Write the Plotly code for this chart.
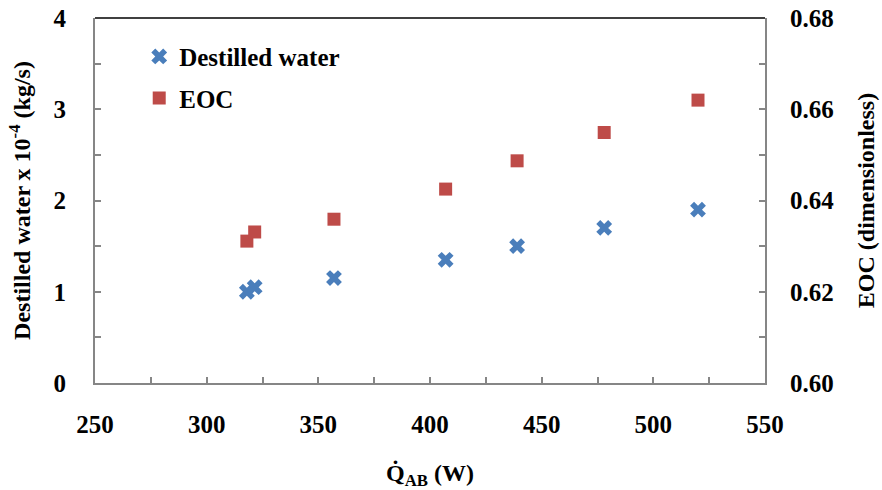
import plotly.graph_objects as go

q_ab = [318, 321.5, 357, 407, 439, 478, 520]
water = [1.0, 1.05, 1.15, 1.35, 1.5, 1.7, 1.9]
eoc = [0.6311, 0.6331, 0.6359, 0.6425, 0.6487, 0.6549, 0.6620]

x_ticks = [250, 300, 350, 400, 450, 500, 550]
yl_ticks = [0, 1, 2, 3, 4]
yr_ticks = [0.60, 0.62, 0.64, 0.66, 0.68]

FONT = "Liberation Serif"
GRAY = "#868686"
BLUE = "#4A7EBB"
RED = "#BE4B48"

fig = go.Figure()
fig.add_trace(go.Scatter(
    x=q_ab, y=water, mode="markers", name="Destilled water",
    legendgroup="a",
    marker=dict(symbol="x", size=14, color=BLUE, line=dict(width=0)),
))
fig.add_trace(go.Scatter(
    x=q_ab, y=eoc, mode="markers", name="EOC", yaxis="y2",
    legendgroup="b",
    marker=dict(symbol="square", size=13, color=RED, line=dict(width=0)),
))

tickfont = dict(family=FONT, size=25, color="black", weight="bold")
titlefont = dict(family=FONT, size=24, color="black", weight="bold")

common = dict(
    showgrid=False, zeroline=False, automargin=False,
    showline=True, linecolor=GRAY, linewidth=2,
    ticks="inside", ticklen=6, tickcolor=GRAY, tickwidth=1.5,
    tickfont=tickfont, ticklabeloverflow="allow",
)

fig.update_layout(
    width=882, height=490,
    margin=dict(l=95, r=117, t=18, b=107, autoexpand=False),
    paper_bgcolor="white", plot_bgcolor="white",
    font=dict(family=FONT, color="black"),
    showlegend=True,
    legend=dict(
        x=0.066, y=0.957, xanchor="left", yanchor="top",
        bgcolor="rgba(0,0,0,0)", tracegroupgap=6,
        font=dict(family=FONT, size=25, color="black", weight="bold"),
        itemwidth=30,
    ),
    xaxis=dict(
        range=[250, 550], tickvals=x_ticks, ticktext=[str(v) for v in x_ticks],
        minor=dict(dtick=25, ticks="inside", ticklen=6, tickcolor=GRAY, tickwidth=1.5),
        ticklabelstandoff=18,
        title=dict(text="Q\u0307<sub>AB</sub> (W)", font=titlefont, standoff=29),
        **common,
    ),
    yaxis=dict(
        range=[0, 4], tickvals=yl_ticks, ticktext=[str(v) for v in yl_ticks],
        minor=dict(dtick=0.5, ticks="inside", ticklen=6, tickcolor=GRAY, tickwidth=1.5),
        ticklabelstandoff=22,
        title=dict(text="Destilled water x 10<sup>-4</sup> (kg/s)", font=titlefont, standoff=16),
        **common,
    ),
    yaxis2=dict(
        range=[0.60, 0.68], tickvals=yr_ticks, ticktext=["%.2f" % v for v in yr_ticks],
        overlaying="y", side="right",
        minor=dict(dtick=0.01, ticks="inside", ticklen=6, tickcolor=GRAY, tickwidth=1.5),
        ticklabelstandoff=18,
        title=dict(text="EOC (dimensionless)", font=titlefont, standoff=24),
        **common,
    ),
    shapes=[dict(type="line", xref="paper", yref="paper", x0=0, x1=1, y0=1, y1=1,
                 line=dict(color="black", width=1.5))],
)

fig.write_html("out.html", config={"displayModeBar": False},
               post_script="document.body.style.margin='0';")
